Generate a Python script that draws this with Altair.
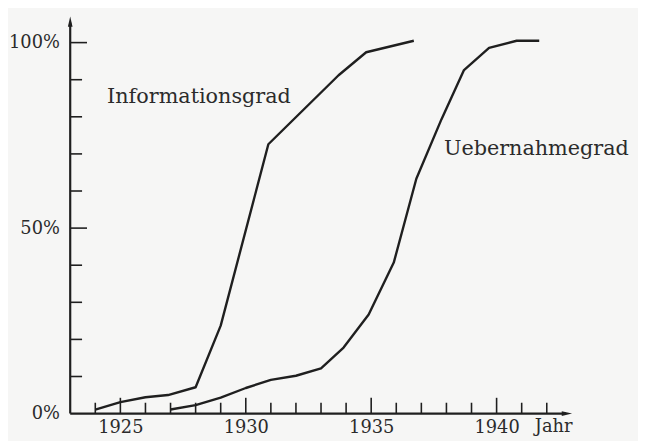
import altair as alt
import pandas as pd

# --- data ---
info_year = [1924.0, 1925.0, 1926.0, 1926.9, 1928.0, 1929.0, 1930.9, 1933.7, 1934.8, 1936.7]
info_pct = [1.1, 3.1, 4.4, 5.0, 7.1, 23.7, 72.6, 91.2, 97.4, 100.5]

adopt_year = [1927.0, 1928.0, 1929.0, 1930.0, 1931.0, 1932.0, 1933.0, 1933.9,
              1934.9, 1935.9, 1936.8, 1937.8, 1938.7, 1939.7, 1940.8, 1941.7]
adopt_pct = [1.1, 2.3, 4.3, 6.9, 9.1, 10.2, 12.2, 17.8,
             26.7, 40.7, 63.3, 79.3, 92.6, 98.6, 100.5, 100.5]

series_names = ["Informationsgrad", "Uebernahmegrad"]
label_year = [1924.47, 1937.9]
label_pct = [83.6, 69.7]

x_tick_years = list(range(1924, 1943))
x_label_years = [1925, 1930, 1935, 1940]
y_tick_pcts = list(range(10, 101, 10))
y_label_pcts = [0, 50, 100]

# --- layout constants ---
X0, X1 = 1923, 1943
Y0, Y1 = 0, 107
W, H = 508, 402
PX_PER_YEAR = W / (X1 - X0)
PX_PER_PCT = H / (Y1 - Y0)
INK = "#1f1f1f"
TXT = "#2b2b2b"
FONT = "DejaVu Serif"

xs = alt.Scale(domain=[X0, X1], nice=False, zero=False)
ys = alt.Scale(domain=[Y0, Y1], nice=False, zero=False)

lines_df = pd.DataFrame(
    {"year": info_year + adopt_year,
     "pct": info_pct + adopt_pct,
     "series": [series_names[0]] * len(info_year) + [series_names[1]] * len(adopt_year)}
)

base_x = alt.X("year:Q", scale=xs,
               axis=alt.Axis(values=x_label_years, ticks=False, domain=False, grid=False,
                             labelFont=FONT, labelFontSize=18, labelColor=TXT,
                             labelPadding=5, labelBaseline="top", format="d", labelFlush=False,
                             title="Jahr", titleFont=FONT, titleFontSize=18,
                             titleFontWeight="normal", titleColor=TXT,
                             titleAlign="left", titleBaseline="top",
                             titleX=470, titleY=4, titleAnchor="start"))
base_y = alt.Y("pct:Q", scale=ys,
               axis=alt.Axis(values=y_label_pcts, ticks=False, domain=False, grid=False,
                             labelFont=FONT, labelFontSize=18, labelColor=TXT,
                             labelPadding=11, labelExpr="datum.value + '%'",
                             labelFlush=False, title=None))

lines = alt.Chart(lines_df).mark_line(color=INK, strokeWidth=2.4, strokeJoin="round").encode(
    x=base_x, y=base_y, detail="series:N")

# axis lines
axes_df = pd.DataFrame({"x": [X0, X0], "y": [0, 0], "x2": [X1 - 6 / PX_PER_YEAR, X0],
                        "y2": [0, Y1 - 6 / PX_PER_PCT]})
axis_lines = alt.Chart(axes_df).mark_rule(color=INK, strokeWidth=2.2).encode(
    x=alt.X("x:Q", scale=xs), x2="x2:Q", y=alt.Y("y:Q", scale=ys), y2="y2:Q")

# arrowheads
arr_r = alt.Chart(pd.DataFrame({"x": [X1 - 5 / PX_PER_YEAR], "y": [0]})).mark_point(
    shape="M-1,-0.45L1,0L-1,0.45Z", filled=True, color=INK, size=110, opacity=1).encode(
    x=alt.X("x:Q", scale=xs), y=alt.Y("y:Q", scale=ys))
arr_u = alt.Chart(pd.DataFrame({"x": [X0], "y": [Y1 - 5 / PX_PER_PCT]})).mark_point(
    shape="M-0.45,1L0,-1L0.45,1Z", filled=True, color=INK, size=110, opacity=1).encode(
    x=alt.X("x:Q", scale=xs), y=alt.Y("y:Q", scale=ys))

# inward tick marks
xt_df = pd.DataFrame({"x": x_tick_years})
xt_df["y"] = 0
xt_df["y2"] = [(16 if v % 5 == 0 else 11) / PX_PER_PCT for v in x_tick_years]
x_ticks = alt.Chart(xt_df).mark_rule(color=INK, strokeWidth=1.6).encode(
    x=alt.X("x:Q", scale=xs), y=alt.Y("y:Q", scale=ys), y2="y2:Q")

yt_df = pd.DataFrame({"y": y_tick_pcts})
yt_df["x"] = X0
yt_df["x2"] = [X0 + (17 if v % 50 == 0 else 12) / PX_PER_YEAR for v in y_tick_pcts]
y_ticks = alt.Chart(yt_df).mark_rule(color=INK, strokeWidth=1.6).encode(
    x=alt.X("x:Q", scale=xs), x2="x2:Q", y=alt.Y("y:Q", scale=ys))

# series labels
lab_df = pd.DataFrame({"year": label_year, "pct": label_pct, "name": series_names})
labels = alt.Chart(lab_df).mark_text(
    font=FONT, fontSize=21, color=TXT, align="left", baseline="alphabetic").encode(
    x=alt.X("year:Q", scale=xs), y=alt.Y("pct:Q", scale=ys), text="name:N")

chart = alt.layer(lines, axis_lines, x_ticks, y_ticks, arr_r, arr_u, labels).properties(
    width=W, height=H,
    autosize=alt.AutoSizeParams(type="none"),
    padding={"left": 63, "top": 6, "right": 67, "bottom": 25},
    background="#f6f6f5",
).configure_view(stroke=None)

chart.save("out.html", embed_options={"renderer": "svg", "actions": False})
